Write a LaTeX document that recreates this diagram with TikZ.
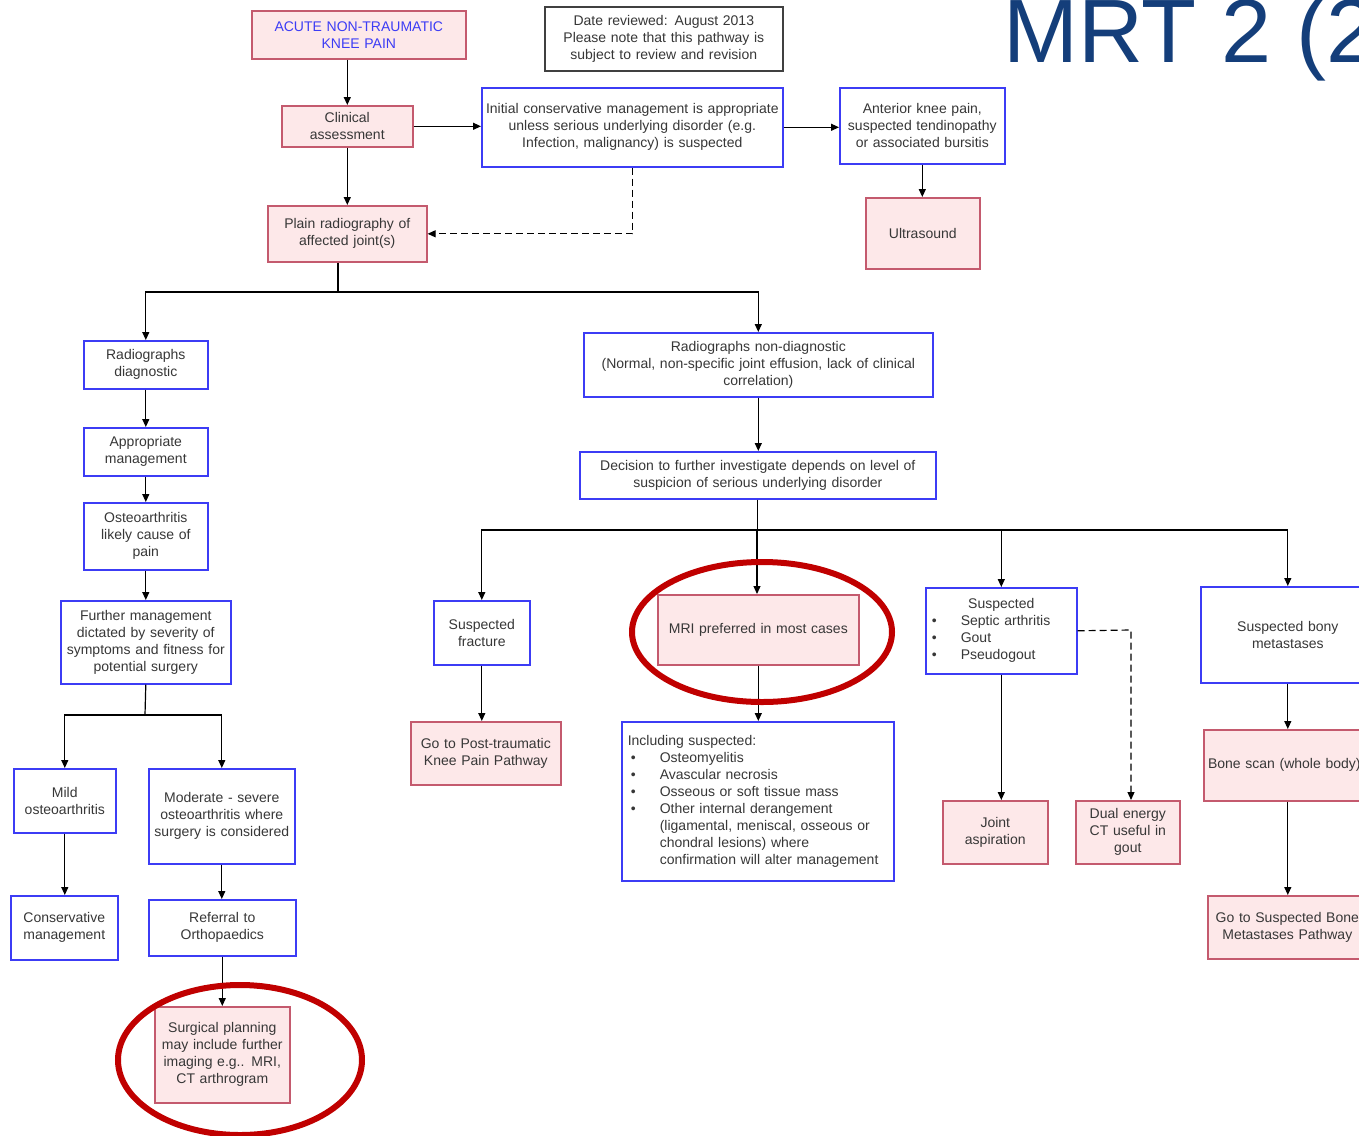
\documentclass[tikz,border=0pt]{standalone}
\usepackage{fontspec}
\setmainfont{Liberation Sans}
\usetikzlibrary{arrows.meta}
\definecolor{pinkfill}{RGB}{253,232,233}
\definecolor{pinkline}{RGB}{196,90,110}
\definecolor{blueline}{RGB}{60,60,245}
\definecolor{txt}{RGB}{55,55,55}
\definecolor{ring}{RGB}{192,0,0}
\definecolor{navy}{RGB}{20,62,122}
\newcommand\mybx[8][]{%
 \pgfmathsetmacro\bxw{#6-#4}\pgfmathsetmacro\bxh{#7-#5}\pgfmathsetmacro\bxt{#6-#4-6}%
 \node[#3, anchor=north west, minimum width=\bxw pt, minimum height=\bxh pt, text width=\bxt pt, #1] (#2) at (#4,#5) {#8};}
\begin{document}
\begin{tikzpicture}[x=1pt,y=-1pt,
  base/.style={draw, line width=1.6pt, inner sep=0pt, align=center, font=\fontsize{14}{17}\selectfont, text=txt},
  pinkbox/.style={base, fill=pinkfill, draw=pinkline},
  bluebox/.style={base, fill=white, draw=blueline},
  graybox/.style={base, fill=white, draw=black!75},
  arr/.style={line width=1.2pt, -{Triangle[length=8pt,width=7pt]}},
  ln/.style={line width=1.2pt},
  dsh/.style={arr, dash pattern=on 7pt off 4pt},
  redring/.style={draw=ring, line width=6pt}]
\useasboundingbox (0,0) rectangle (1359,1135);
\clip (0,0) rectangle (1359,1135);
\fill[white] (0,0) rectangle (1359,1135);

\node[anchor=base west, font=\fontsize{90}{90}\selectfont, text=navy, inner sep=0pt] (title) at (1003,62) {MRT 2 (2};

\mybx[text=blueline]{acute}{pinkbox}{251}{10}{465}{58}{ACUTE NON-TRAUMATIC\\KNEE PAIN}
\mybx{date}{graybox}{544}{6}{782}{70}{Date reviewed: August 2013\\Please note that this pathway is\\subject to review and revision}
\mybx{clinical}{pinkbox}{281}{105}{412}{146}{Clinical\\assessment}
\mybx{initial}{bluebox}{481}{87}{782}{166}{Initial conservative management is appropriate\\unless serious underlying disorder (e.g.\\Infection, malignancy) is suspected}
\mybx{anterior}{bluebox}{839}{87}{1004}{163}{Anterior knee pain,\\suspected tendinopathy\\or associated bursitis}
\mybx{ultrasound}{pinkbox}{865}{197}{979}{268}{Ultrasound}
\mybx{plain}{pinkbox}{267}{205}{426}{261}{Plain radiography of\\affected joint(s)}
\mybx{radiodiag}{bluebox}{83}{340}{207}{388}{Radiographs\\diagnostic}
\mybx{nondiag}{bluebox}{583}{332}{932}{396}{Radiographs non-diagnostic\\(Normal, non-specific joint effusion, lack of clinical\\correlation)}
\mybx{appropriate}{bluebox}{83}{427}{207}{475}{Appropriate\\management}
\mybx{osteo}{bluebox}{83}{502}{207}{569}{Osteoarthritis\\likely cause of\\pain}
\mybx{further}{bluebox}{60}{600}{230}{683}{Further management\\dictated by severity of\\symptoms and fitness for\\potential surgery}
\mybx{decision}{bluebox}{579}{451}{935}{498}{Decision to further investigate depends on level of\\suspicion of serious underlying disorder}
\mybx{suspfract}{bluebox}{433}{600}{529}{664}{Suspected\\fracture}
\mybx{mri}{pinkbox}{657}{594}{858}{664}{MRI preferred in most cases}
\mybx[align=left]{septic}{bluebox}{925}{587}{1076}{673}{\makebox[\bxt pt]{Suspected}\\
\makebox[32pt][l]{\hspace{3pt}\textbullet}Septic arthritis\\
\makebox[32pt][l]{\hspace{3pt}\textbullet}Gout\\
\makebox[32pt][l]{\hspace{3pt}\textbullet}Pseudogout}
\mybx{bony}{bluebox}{1200}{586}{1374}{682}{Suspected bony\\metastases}
\mybx{gopost}{pinkbox}{410}{721}{560}{784}{Go to Post-traumatic\\Knee Pain Pathway}
\mybx[align=left]{including}{bluebox}{621}{721}{893}{880}{\hspace*{3pt}Including suspected:\\
\makebox[35pt][l]{\hspace{6pt}\textbullet}Osteomyelitis\\
\makebox[35pt][l]{\hspace{6pt}\textbullet}Avascular necrosis\\
\makebox[35pt][l]{\hspace{6pt}\textbullet}Osseous or soft tissue mass\\
\makebox[35pt][l]{\hspace{6pt}\textbullet}Other internal derangement\\
\hspace*{35pt}(ligamental, meniscal, osseous or\\
\hspace*{35pt}chondral lesions) where\\
\hspace*{35pt}confirmation will alter management}
\mybx{joint}{pinkbox}{942}{800}{1047}{863}{Joint\\aspiration}
\mybx{dual}{pinkbox}{1075}{800}{1179}{863}{Dual energy\\CT useful in\\gout}
\mybx{bonescan}{pinkbox}{1203}{729}{1364}{800}{Bone scan (whole body)}
\mybx{gobone}{pinkbox}{1207}{895}{1366}{958}{Go to Suspected Bone\\Metastases Pathway}
\mybx{mild}{bluebox}{13}{768}{115}{832}{Mild\\osteoarthritis}
\mybx{moderate}{bluebox}{148}{768}{294}{863}{Moderate - severe\\osteoarthritis where\\surgery is considered}
\mybx{conservative}{bluebox}{10}{895}{117}{959}{Conservative\\management}
\mybx{referral}{bluebox}{148}{899}{295}{955}{Referral to\\Orthopaedics}
\mybx{surgical}{pinkbox}{154}{1006}{289}{1102}{Surgical planning\\may include further\\imaging e.g.. MRI,\\CT arthrogram}

% connectors
\draw[arr] (acute.south -| clinical.north) -- (clinical.north);
\draw[arr] (clinical.east) -- (clinical.east -| initial.west);
\draw[arr] (initial.east) -- (initial.east -| anterior.west);
\draw[arr] (anterior.south) -- (anterior.south |- ultrasound.north);
\draw[arr] (clinical.south) -- (plain.north);
\draw[dsh] (initial.south) |- (plain.east);

\coordinate (j1) at (338,292);
\draw[ln] (plain.south -| j1) -- (j1);
\draw[arr] (j1) -| (radiodiag.north);
\draw[arr] (j1) -| (nondiag.north);
\draw[arr] (radiodiag.south) -- (appropriate.north);
\draw[arr] (appropriate.south) -- (osteo.north);
\draw[arr] (osteo.south) -- (further.north);

\coordinate (j2) at (145,715);
\draw[ln] (further.south) -- (j2);
\draw[arr] (j2) -| (mild.north);
\draw[arr] (j2) -| (moderate.north);
\draw[arr] (mild.south) -- (mild.south |- conservative.north);
\draw[arr] (moderate.south) -- (moderate.south |- referral.north);
\draw[arr] (referral.south) -- (referral.south |- surgical.north);

\draw[arr] (nondiag.south) -- (nondiag.south |- decision.north);
\coordinate (j3) at (757,530);
\draw[ln] (decision.south) -- (decision.south |- j3);
\draw[arr] (j3) -| (suspfract.north);
\draw[arr] (j3) -- (j3 |- mri.north);
\draw[arr] (j3) -| (septic.north);
\draw[arr] (j3) -| (bony.north);
\draw[arr] (suspfract.south) -- (suspfract.south |- gopost.north);
\draw[arr] (mri.south) -- (mri.south |- including.north);
\draw[arr] (septic.south) -- (septic.south |- joint.north);
\coordinate (d1) at (1131,630);
\draw[dsh] (septic.east) -- (d1) -- (d1 |- dual.north);
\draw[arr] (bony.south) -- (bony.south |- bonescan.north);
\draw[arr] (bonescan.south -| bony.south) -- (bony.south |- gobone.north);

% highlight rings
\draw[redring] (762,632) ellipse [x radius=130pt, y radius=70pt];
\draw[redring] (240,1060) ellipse [x radius=122pt, y radius=75pt];
\end{tikzpicture}
\end{document}
